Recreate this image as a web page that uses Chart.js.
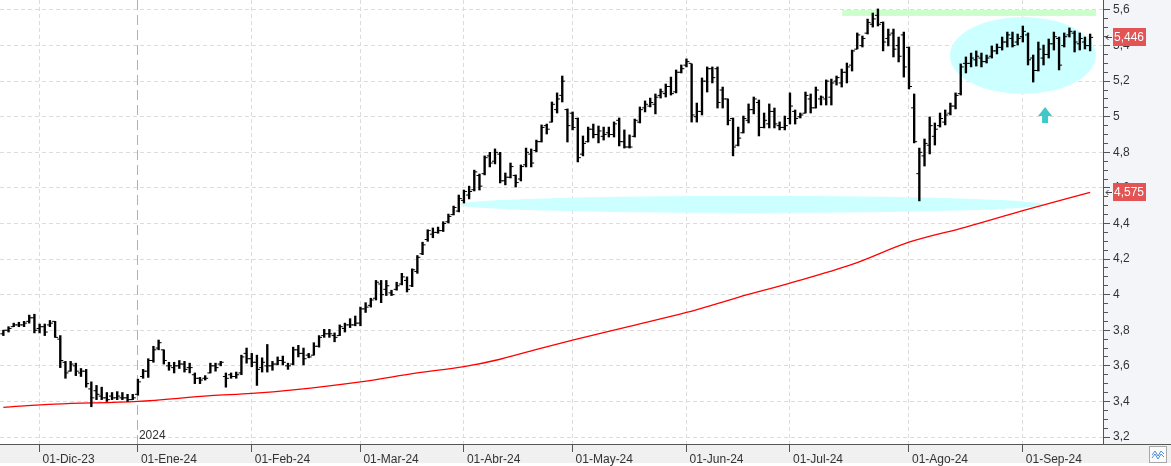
<!DOCTYPE html>
<html>
<head>
<meta charset="utf-8">
<script src="https://cdn.jsdelivr.net/npm/chart.js@4.4.1/dist/chart.umd.min.js"></script>
<style>
  html, body { margin: 0; padding: 0; background: #fff; overflow: hidden; }
  canvas { display: block; }
</style>
</head>
<body>
<canvas id="chart" width="1171" height="466"></canvas>
<script>
// month starts (bar index) and their axis labels
const monthTicks = [7, 26, 48, 69, 89, 110, 132, 152, 175, 197];
const monthLabels = ["01-Dic-23", "01-Ene-24", "01-Feb-24", "01-Mar-24", "01-Abr-24",
  "01-May-24", "01-Jun-24", "01-Jul-24", "01-Ago-24", "01-Sep-24"];
const yearTick = 26;
const yearLabel = "2024";
const priceTicks = [3.2, 3.4, 3.6, 3.8, 4, 4.2, 4.4, 4.6, 4.8, 5, 5.2, 5.4, 5.6];

// daily bars, one value per session (22-nov-23 .. 19-sep-24)
const opens = [
  3.78,3.80,3.82,3.83,3.83,3.85,3.87,3.81,3.82,3.83,
  3.85,3.75,3.62,3.57,3.60,3.56,3.57,3.47,3.46,3.43,
  3.42,3.43,3.42,3.42,3.42,3.41,3.44,3.54,3.57,3.63,
  3.70,3.69,3.60,3.59,3.60,3.61,3.59,3.55,3.53,3.53,
  3.56,3.60,3.61,3.54,3.55,3.54,3.56,3.67,3.64,3.62,
  3.59,3.60,3.60,3.61,3.63,3.60,3.61,3.69,3.67,3.66,
  3.66,3.71,3.77,3.78,3.77,3.77,3.81,3.83,3.83,3.84,
  3.92,3.94,3.98,4.06,4.03,4.01,4.03,4.06,4.08,4.05,
  4.13,4.23,4.31,4.34,4.35,4.36,4.41,4.45,4.47,4.53,
  4.56,4.59,4.67,4.68,4.78,4.75,4.79,4.64,4.66,4.67,
  4.65,4.73,4.79,4.81,4.86,4.95,4.97,5.04,5.12,5.04,
  5.02,4.99,4.79,4.86,4.93,4.90,4.89,4.91,4.90,4.98,
  4.86,4.83,4.89,4.97,5.05,5.06,5.07,5.12,5.13,5.17,
  5.14,5.25,5.29,5.30,5.00,5.03,5.20,5.27,5.27,5.15,
  5.10,4.99,4.84,4.91,4.98,5.04,5.08,4.94,4.96,5.03,
  4.95,4.94,4.99,5.03,5.00,5.02,5.10,5.05,5.10,5.10,
  5.11,5.20,5.19,5.25,5.29,5.38,5.40,5.47,5.52,5.57,
  5.53,5.44,5.47,5.40,5.46,5.39,5.05,4.68,4.78,4.84,
  4.89,4.95,4.97,5.02,5.06,5.13,5.30,5.30,5.32,5.33,
  5.31,5.34,5.37,5.39,5.42,5.44,5.42,5.45,5.46,5.33,
  5.26,5.33,5.35,5.41,5.44,5.40,5.46,5.47,5.41,5.42,
  5.40
];
const highs = [
  3.80,3.82,3.84,3.845,3.85,3.885,3.89,3.835,3.835,3.855,
  3.85,3.77,3.625,3.625,3.615,3.585,3.58,3.51,3.49,3.48,
  3.45,3.45,3.455,3.45,3.44,3.44,3.525,3.58,3.64,3.71,
  3.745,3.69,3.62,3.62,3.63,3.625,3.615,3.56,3.535,3.545,
  3.615,3.615,3.625,3.56,3.56,3.565,3.66,3.70,3.67,3.66,
  3.645,3.72,3.625,3.65,3.655,3.615,3.705,3.715,3.70,3.67,
  3.73,3.77,3.805,3.805,3.785,3.83,3.84,3.865,3.88,3.93,
  3.955,3.98,4.08,4.08,4.08,4.025,4.07,4.12,4.10,4.145,
  4.22,4.295,4.365,4.375,4.38,4.41,4.453,4.498,4.56,4.588,
  4.61,4.70,4.678,4.78,4.80,4.819,4.80,4.684,4.74,4.673,
  4.729,4.824,4.819,4.869,4.954,4.959,5.083,5.134,5.229,5.044,
  5.027,4.993,4.892,4.942,4.959,4.948,4.942,4.942,4.971,4.993,
  4.926,4.898,4.987,5.055,5.089,5.105,5.128,5.156,5.184,5.223,
  5.263,5.291,5.325,5.297,5.077,5.218,5.28,5.28,5.28,5.167,
  5.10,4.993,4.942,5.004,5.072,5.111,5.094,5.021,5.072,5.049,
  4.971,5.004,5.134,5.038,5.021,5.139,5.128,5.167,5.117,5.207,
  5.212,5.229,5.268,5.302,5.375,5.471,5.454,5.549,5.583,5.606,
  5.533,5.493,5.493,5.448,5.476,5.392,5.128,4.824,4.875,4.999,
  4.965,5.021,5.038,5.077,5.134,5.297,5.336,5.358,5.37,5.358,
  5.347,5.398,5.409,5.448,5.476,5.476,5.465,5.51,5.471,5.347,
  5.42,5.403,5.437,5.476,5.448,5.471,5.499,5.482,5.471,5.448,
  5.465
];
const lows = [
  3.77,3.79,3.82,3.82,3.82,3.84,3.785,3.785,3.77,3.82,
  3.76,3.59,3.53,3.57,3.545,3.54,3.48,3.37,3.41,3.41,
  3.40,3.41,3.41,3.41,3.40,3.41,3.435,3.53,3.535,3.62,
  3.69,3.61,3.575,3.56,3.585,3.565,3.56,3.50,3.50,3.52,
  3.56,3.57,3.60,3.48,3.53,3.53,3.55,3.615,3.595,3.49,
  3.565,3.565,3.575,3.605,3.605,3.58,3.605,3.65,3.605,3.645,
  3.66,3.705,3.76,3.76,3.735,3.77,3.79,3.815,3.825,3.825,
  3.90,3.93,3.97,3.955,3.995,3.995,4.025,4.055,4.015,4.045,
  4.12,4.225,4.30,4.32,4.345,4.355,4.403,4.448,4.465,4.515,
  4.538,4.583,4.588,4.673,4.718,4.735,4.628,4.617,4.656,4.605,
  4.639,4.718,4.718,4.802,4.858,4.903,4.97,5.021,5.083,4.858,
  4.926,4.746,4.78,4.858,4.881,4.853,4.869,4.886,4.886,4.836,
  4.824,4.824,4.886,4.965,5.027,5.055,5.016,5.105,5.111,5.122,
  5.134,5.246,5.28,4.97,4.97,5.01,5.139,5.19,5.049,5.049,
  4.954,4.78,4.836,4.909,4.965,5.016,4.892,4.937,4.937,4.937,
  4.926,4.926,4.959,4.959,4.993,5.021,5.021,5.049,5.066,5.066,
  5.066,5.178,5.167,5.19,5.257,5.381,5.392,5.465,5.504,5.51,
  5.37,5.398,5.336,5.308,5.223,5.156,4.853,4.527,4.723,4.791,
  4.841,4.942,4.954,5.01,5.044,5.122,5.246,5.28,5.285,5.28,
  5.302,5.33,5.353,5.375,5.392,5.392,5.403,5.42,5.291,5.195,
  5.257,5.291,5.33,5.375,5.263,5.392,5.448,5.364,5.375,5.381,
  5.37
];
const closes = [
  3.80,3.81,3.83,3.83,3.84,3.87,3.80,3.82,3.79,3.84,
  3.76,3.63,3.56,3.61,3.57,3.57,3.50,3.42,3.44,3.42,
  3.41,3.42,3.43,3.42,3.41,3.42,3.51,3.57,3.63,3.69,
  3.73,3.63,3.60,3.60,3.61,3.58,3.59,3.53,3.52,3.53,
  3.60,3.59,3.62,3.53,3.54,3.55,3.65,3.64,3.62,3.58,
  3.62,3.60,3.61,3.63,3.62,3.60,3.69,3.67,3.64,3.65,
  3.71,3.76,3.78,3.78,3.76,3.82,3.83,3.83,3.84,3.92,
  3.93,3.97,4.07,4.00,4.05,4.00,4.05,4.10,4.03,4.14,
  4.21,4.28,4.36,4.35,4.36,4.40,4.44,4.49,4.54,4.58,
  4.58,4.69,4.61,4.77,4.74,4.80,4.64,4.66,4.72,4.63,
  4.72,4.80,4.74,4.86,4.94,4.93,5.07,5.10,5.20,4.95,
  4.94,4.77,4.85,4.93,4.90,4.92,4.90,4.90,4.96,4.86,
  4.83,4.83,4.98,5.04,5.07,5.08,5.11,5.14,5.17,5.13,
  5.25,5.27,5.31,5.01,5.03,5.20,5.27,5.22,5.08,5.10,
  4.98,4.83,4.88,4.99,5.04,5.10,4.94,4.98,5.03,4.96,
  4.94,4.95,5.06,4.99,5.01,5.12,5.05,5.15,5.11,5.20,
  5.19,5.22,5.25,5.28,5.37,5.46,5.44,5.53,5.55,5.52,
  5.42,5.46,5.38,5.34,5.28,5.17,4.86,4.80,4.85,4.95,
  4.93,4.99,5.01,5.06,5.12,5.28,5.30,5.33,5.34,5.31,
  5.33,5.37,5.39,5.42,5.46,5.40,5.44,5.48,5.32,5.26,
  5.38,5.35,5.41,5.45,5.29,5.45,5.48,5.42,5.44,5.40,
  5.446
];

// moving average at these bars
const maIdx = [0, 10, 26, 40, 48, 56, 69, 80, 89, 96, 104, 110, 121, 132, 142, 152, 164, 175, 186, 197, 210];
const maValues = [3.367, 3.385, 3.40, 3.432, 3.445, 3.465, 3.51, 3.56, 3.595, 3.637, 3.70, 3.745,
  3.822, 3.90, 3.985, 4.065, 4.17, 4.295, 4.38, 4.472, 4.575];

const fmt = (v, d) => v.toFixed(d).replace(".", ",");

// drawings on the chart (data units)
const drawings = {
  band: { x0: 162.1, x1: 211.15, y0: 5.566, y1: 5.60, color: "#ccffcc" },
  ellipses: [
    { cx: 197.0, cy: 5.344, rx: 14.1, ry: 0.216, color: "#ccffff" },
    { cx: 144.5, cy: 4.507, rx: 56.4, ry: 0.048, color: "#ccffff" }
  ],
  arrow: { x: 201.3, tip: 5.055, neck: 5.004, tail: 4.965, color: "#3fc8c8" }
};

const overlays = {
  id: "overlays",
  beforeDraw(chart) {
    const { ctx, chartArea: a, width } = chart;
    ctx.save();
    ctx.fillStyle = "#f4f5f9";
    ctx.fillRect(a.right, 0, width - a.right, a.bottom);
    ctx.fillStyle = "#f0f0f0";
    ctx.fillRect(0, a.bottom, width, 19);
    ctx.restore();
  },
  beforeDatasetsDraw(chart) {
    const { ctx, chartArea: a } = chart;
    const x = chart.scales.x, y = chart.scales.y;
    ctx.save();
    ctx.beginPath();
    ctx.rect(a.left, a.top, a.width, a.height);
    ctx.clip();
    const b = drawings.band;
    ctx.fillStyle = b.color;
    ctx.fillRect(x.getPixelForValue(b.x0), y.getPixelForValue(b.y1),
      x.getPixelForValue(b.x1) - x.getPixelForValue(b.x0),
      y.getPixelForValue(b.y0) - y.getPixelForValue(b.y1));
    drawings.ellipses.forEach(e => {
      const cx = x.getPixelForValue(e.cx), cy = y.getPixelForValue(e.cy);
      const rx = x.getPixelForValue(e.cx + e.rx) - cx;
      const ry = y.getPixelForValue(e.cy - e.ry) - cy;
      ctx.fillStyle = e.color;
      ctx.beginPath();
      ctx.ellipse(cx, cy, rx, ry, 0, 0, Math.PI * 2);
      ctx.fill();
    });
    const ar = drawings.arrow;
    const ax = x.getPixelForValue(ar.x);
    const tip = y.getPixelForValue(ar.tip), neck = y.getPixelForValue(ar.neck), tail = y.getPixelForValue(ar.tail);
    ctx.fillStyle = ar.color;
    ctx.beginPath();
    ctx.moveTo(ax, tip);
    ctx.lineTo(ax + 7, neck);
    ctx.lineTo(ax + 3, neck);
    ctx.lineTo(ax + 3, tail);
    ctx.lineTo(ax - 3, tail);
    ctx.lineTo(ax - 3, neck);
    ctx.lineTo(ax - 7, neck);
    ctx.closePath();
    ctx.fill();
    ctx.restore();
  },
  afterDraw(chart) {
    const { ctx, chartArea: a, width } = chart;
    const x = chart.scales.x, y = chart.scales.y;
    ctx.save();
    // axis line runs under the price panel too
    ctx.strokeStyle = "#555";
    ctx.lineWidth = 1;
    ctx.beginPath();
    ctx.moveTo(0, a.bottom + 0.5);
    ctx.lineTo(width, a.bottom + 0.5);
    ctx.stroke();

    ctx.font = '12px "Liberation Sans", Arial, sans-serif';
    ctx.textBaseline = "middle";
    ctx.textAlign = "left";
    ctx.fillStyle = "#333";
    ctx.fillText(yearLabel, x.getPixelForValue(yearTick) + 1, a.bottom - 8);

    // last price / last average tags
    [closes[closes.length - 1], maValues[maValues.length - 1]].forEach(v => {
      const py = Math.round(y.getPixelForValue(v));
      ctx.fillStyle = "#e35454";
      ctx.fillRect(a.right + 10, py - 9, 33, 18);
      ctx.fillStyle = "#fff";
      ctx.fillText(fmt(v, 3), a.right + 11, py + 1);
      ctx.strokeStyle = "#444";
      ctx.beginPath();
      ctx.moveTo(a.right + 3, py + 0.5);
      ctx.lineTo(a.right + 9, py + 0.5);
      ctx.moveTo(a.right + 5.5, py - 2);
      ctx.lineTo(a.right + 3, py + 0.5);
      ctx.lineTo(a.right + 5.5, py + 3);
      ctx.stroke();
    });

    // small chart-type button, bottom right
    ctx.fillStyle = "#fbfbfb";
    ctx.strokeStyle = "#a8a8a8";
    ctx.fillRect(1149.5, 446.5, 17, 16);
    ctx.strokeRect(1149.5, 446.5, 17, 16);
    ctx.strokeStyle = "#4b8fd6";
    ctx.beginPath();
    ctx.moveTo(1152, 455); ctx.lineTo(1155, 451); ctx.lineTo(1158, 456); ctx.lineTo(1161, 451); ctx.lineTo(1164, 454);
    ctx.moveTo(1152, 458); ctx.lineTo(1155, 454); ctx.lineTo(1158, 459); ctx.lineTo(1161, 454); ctx.lineTo(1164, 457);
    ctx.stroke();
    ctx.restore();
  }
};

Chart.defaults.font.family = '"Liberation Sans", Arial, sans-serif';
Chart.defaults.font.size = 12;
Chart.defaults.color = "#333";

const idx = closes.map((c, i) => i);

new Chart(document.getElementById("chart"), {
  type: "bar",
  data: {
    datasets: [
      {
        type: "line",
        label: "media",
        data: maIdx.map((v, i) => ({ x: v, y: maValues[i] })),
        borderColor: "#ff0000",
        borderWidth: 1.3,
        pointRadius: 0,
        cubicInterpolationMode: "monotone",
        order: 3
      },
      {
        type: "bar",
        label: "rango",
        data: idx.map(i => ({ x: i, y: [lows[i], highs[i]] })),
        backgroundColor: "#000",
        borderWidth: 0,
        barThickness: 1.7,
        order: 2
      },
      {
        type: "line",
        label: "apertura",
        data: idx.map(i => ({ x: i, y: opens[i] })),
        showLine: false,
        pointStyle: "dash",
        pointRotation: 180,
        pointRadius: 3,
        pointBorderWidth: 1,
        pointBorderColor: "#000",
        order: 1
      },
      {
        type: "line",
        label: "cierre",
        data: idx.map(i => ({ x: i, y: closes[i] })),
        showLine: false,
        pointStyle: "dash",
        pointRadius: 3,
        pointBorderWidth: 1,
        pointBorderColor: "#000",
        order: 1
      }
    ]
  },
  options: {
    responsive: false,
    devicePixelRatio: 1,
    animation: false,
    events: [],
    layout: { padding: 0, autoPadding: false },
    plugins: { legend: { display: false }, tooltip: { enabled: false } },
    scales: {
      x: {
        type: "linear",
        position: "bottom",
        min: -0.65,
        max: -0.65 + 1103 / 5.175,
        offset: false,
        bounds: "data",
        grid: {
          offset: false,
          color: c => (c.tick && c.tick.value === yearTick ? "#b0b0b0" : "#dcdcdc"),
          tickColor: "#555",
          tickLength: 8,
          tickBorderDash: []
        },
        border: {
          color: "#555",
          dash: c => (c.tick && c.tick.value === yearTick ? [10, 5] : [4, 3])
        },
        afterBuildTicks: s => { s.ticks = monthTicks.map(v => ({ value: v })); },
        afterFit: s => { s.height = 22; s.paddingLeft = 0; s.paddingRight = 0; },
        ticks: {
          autoSkip: false,
          maxRotation: 0,
          align: "start",
          labelOffset: 3,
          padding: 0,
          color: "#333",
          callback: (v, i) => monthLabels[i]
        }
      },
      y: {
        type: "linear",
        position: "right",
        min: 3.2 - 7 / 177.92,
        max: 5.6 + 10 / 177.92,
        beginAtZero: false,
        bounds: "data",
        grid: {
          color: c => (c.tick && c.tick.major ? "#dcdcdc" : "rgba(0,0,0,0)"),
          tickColor: "#555",
          tickLength: 7,
          tickBorderDash: c => (c.tick && c.tick.major ? [] : [4, 20])
        },
        border: { color: "#555", dash: [4, 3] },
        afterBuildTicks: s => {
          const t = [];
          priceTicks.forEach((p, k) => {
            t.push({ value: p, major: true });
            if (k < priceTicks.length - 1) {
              const step = (priceTicks[k + 1] - p) / 4;
              for (let j = 1; j < 4; j++) t.push({ value: p + step * j, major: false });
            }
          });
          s.ticks = t;
        },
        afterFit: s => { s.width = 68; s.paddingTop = 0; s.paddingBottom = 0; },
        ticks: {
          autoSkip: false,
          padding: 3,
          color: "#333",
          callback: function (v, i, ticks) { return ticks[i].major ? fmt(v, v % 1 === 0 ? 0 : 1) : ""; }
        }
      }
    }
  },
  plugins: [overlays]
});
</script>
</body>
</html>
